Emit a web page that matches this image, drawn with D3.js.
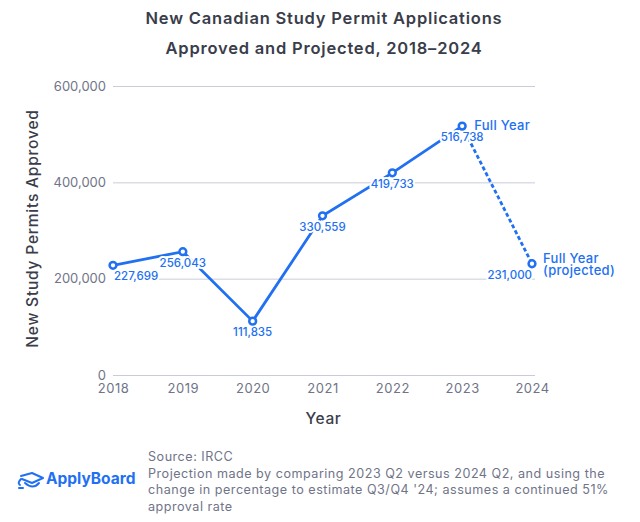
<!DOCTYPE html>
<html>
<head>
<meta charset="utf-8">
<script src="https://cdn.jsdelivr.net/npm/d3@7"></script>
<style>
  html, body { margin: 0; padding: 0; background: #fff; }
  text { font-family: Inter, "Noto Sans", sans-serif; }
</style>
</head>
<body>
<div id="chart"></div>
<script>
// chart values
const years = [2018, 2019, 2020, 2021, 2022, 2023, 2024];
const permits = [227699, 256043, 111835, 330559, 419733, 516738, 231000];
const yTicks = [0, 200000, 400000, 600000];
const titleLines = ["New Canadian Study Permit Applications", "Approved and Projected, 2018–2024"];
const sourceLines = [
    "Source: IRCC",
    "Projection made by comparing 2023 Q2 versus 2024 Q2, and using the",
    "change in percentage to estimate Q3/Q4 '24; assumes a continued 51%",
    "approval rate"
];

const blue = "#2270f2";
const grey = "#6f7488";
const dark = "#3a3d4a";

let svgWidth = 640;
let svgHeight = 522;
let margin = { top: 86, bottom: 147, left: 113, right: 108 };
let width = svgWidth - margin.left - margin.right;
let height = svgHeight - margin.top - margin.bottom;

let svg = d3.select("#chart")
    .append("svg")
    .attr("width", svgWidth)
    .attr("height", svgHeight)
    .style("display", "block");

let chartGroup = svg.append("g")
    .attr("transform", `translate(${margin.left},${margin.top})`);

let x = d3.scalePoint().domain(years).range([0, width]);
let y = d3.scaleLinear().domain([0, 600000]).range([height, 0]);

// title
svg.selectAll(".title")
    .data(titleLines)
    .enter()
    .append("text")
    .attr("class", "title")
    .attr("x", 324)
    .attr("y", (d, i) => 24 + i * 29.5)
    .attr("text-anchor", "middle")
    .attr("font-size", 16.5)
    .attr("font-weight", 600)
    .attr("letter-spacing", 0.8)
    .attr("fill", dark)
    .text(d => d);

// y axis with gridlines
let leftAxis = d3.axisLeft(y)
    .tickValues(yTicks)
    .tickSize(-(width + 3))
    .tickPadding(7)
    .tickFormat(d3.format(","));
let yAxis = chartGroup.append("g").call(leftAxis);
yAxis.select(".domain").remove();
yAxis.selectAll("line").attr("stroke", "#c9cbdb").attr("stroke-width", 1);
yAxis.selectAll("text")
    .attr("font-size", 13)
    .attr("fill", grey)
    .style("font-family", "Inter");

// x axis, no ticks or line
let bottomAxis = d3.axisBottom(x).tickSize(0).tickPadding(9);
let xAxis = chartGroup.append("g")
    .attr("transform", `translate(0,${height})`)
    .call(bottomAxis);
xAxis.select(".domain").remove();
xAxis.selectAll("text")
    .attr("font-size", 13)
    .attr("letter-spacing", 0.5)
    .attr("fill", grey)
    .style("font-family", "Inter");

// axis titles
chartGroup.append("text")
    .attr("x", width / 2 + 1)
    .attr("y", height + 49)
    .attr("text-anchor", "middle")
    .attr("font-size", 15.5)
    .attr("font-weight", 500)
    .attr("letter-spacing", 0.6)
    .attr("fill", dark)
    .text("Year");

chartGroup.append("text")
    .attr("transform", "rotate(-90)")
    .attr("x", -(height / 2) + 2)
    .attr("y", -75)
    .attr("text-anchor", "middle")
    .attr("font-size", 15.5)
    .attr("font-weight", 500)
    .attr("letter-spacing", 0.8)
    .attr("fill", dark)
    .text("New Study Permits Approved");

// solid line to 2023, dashed line for the projection
let line = d3.line()
    .x(d => x(d.year))
    .y(d => y(d.value));
let points = years.map((year, i) => ({ year: year, value: permits[i] }));

chartGroup.append("path")
    .datum(points.slice(0, 6))
    .attr("d", line)
    .attr("fill", "none")
    .attr("stroke", blue)
    .attr("stroke-width", 2.8);

chartGroup.append("path")
    .datum(points.slice(5))
    .attr("d", line)
    .attr("fill", "none")
    .attr("stroke", blue)
    .attr("stroke-width", 2.8)
    .attr("stroke-dasharray", "4,2.5");

// labels sit on the line with a white halo
const labelDx = [1, 0, 0, 0, 0, 0, 0];
const labelDy = [15, 15, 15, 15, 15, 15, 15];
const labelAnchor = ["start", "middle", "middle", "middle", "middle", "middle", "end"];

chartGroup.selectAll(".value")
    .data(points)
    .enter()
    .append("text")
    .attr("class", "value")
    .attr("x", (d, i) => x(d.year) + labelDx[i])
    .attr("y", (d, i) => y(d.value) + labelDy[i])
    .attr("text-anchor", (d, i) => labelAnchor[i])
    .attr("font-size", 11.5)
    .attr("font-weight", 500)
    .attr("fill", blue)
    .attr("stroke", "#fff")
    .attr("stroke-width", 4)
    .attr("paint-order", "stroke")
    .text(d => d3.format(",")(d.value));

chartGroup.selectAll("circle")
    .data(points)
    .enter()
    .append("circle")
    .attr("cx", d => x(d.year))
    .attr("cy", d => y(d.value))
    .attr("r", 3.4)
    .attr("fill", "#fff")
    .attr("stroke", blue)
    .attr("stroke-width", 2.5);

// end notes
chartGroup.append("text")
    .attr("x", x(2023) + 12)
    .attr("y", y(516738) + 4)
    .attr("font-size", 13)
    .attr("font-weight", 500)
    .attr("letter-spacing", 0.3)
    .attr("fill", blue)
    .text("Full Year");

let note = chartGroup.append("text")
    .attr("font-size", 13)
    .attr("font-weight", 500)
    .attr("letter-spacing", 0.3)
    .attr("fill", blue);
note.append("tspan")
    .attr("x", x(2024) + 11)
    .attr("y", y(231000) - 1)
    .text("Full Year");
note.append("tspan")
    .attr("x", x(2024) + 11)
    .attr("y", y(231000) + 11)
    .text("(projected)");

// footer
svg.selectAll(".source")
    .data(sourceLines)
    .enter()
    .append("text")
    .attr("class", "source")
    .attr("x", 148)
    .attr("y", (d, i) => 461 + i * 16.6)
    .attr("font-size", 12.6)
    .attr("letter-spacing", 0.5)
    .attr("fill", grey)
    .text(d => d);

// logo
let logo = svg.append("g")
    .attr("fill", "none")
    .attr("stroke", blue)
    .attr("stroke-width", 2)
    .attr("stroke-linecap", "round")
    .attr("stroke-linejoin", "round");
logo.append("path").attr("d", "M21 476 L32 473 L43 478 L32 483 L22 479");
logo.append("path").attr("d", "M25 483 Q33 490 39 483");
logo.append("path").attr("d", "M21 479 Q17 483 20 485 M19 488 L23 488");

svg.append("text")
    .attr("x", 46)
    .attr("y", 484)
    .attr("font-size", 15.5)
    .attr("font-weight", 700)
    .attr("fill", blue)
    .text("ApplyBoard");
</script>
</body>
</html>
